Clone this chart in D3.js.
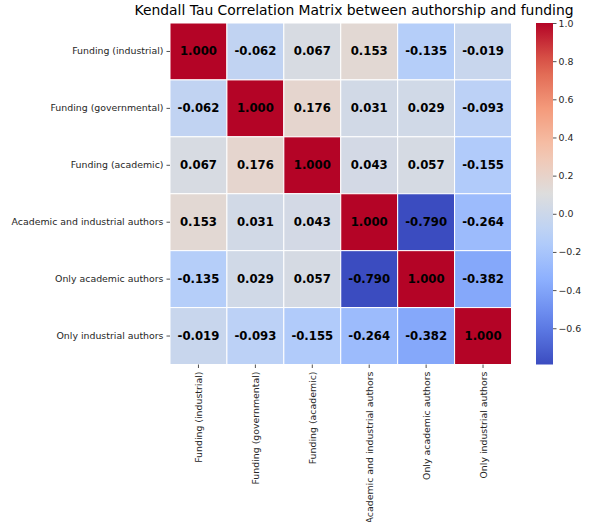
<!DOCTYPE html>
<html>
<head>
<meta charset="utf-8">
<script src="https://cdn.jsdelivr.net/npm/d3@7"></script>
<style>
  body { margin: 0; background: #fff; }
  text { font-family: "DejaVu Sans", sans-serif; fill: #262626; }
</style>
</head>
<body>
<svg id="chart"></svg>
<script>
// labels for rows and columns (same order)
const labels = [
  "Funding (industrial)",
  "Funding (governmental)",
  "Funding (academic)",
  "Academic and industrial authors",
  "Only academic authors",
  "Only industrial authors"
];

// Kendall tau values, one row per label
const row0 = [1.000, -0.062, 0.067, 0.153, -0.135, -0.019];
const row1 = [-0.062, 1.000, 0.176, 0.031, 0.029, -0.093];
const row2 = [0.067, 0.176, 1.000, 0.043, 0.057, -0.155];
const row3 = [0.153, 0.031, 0.043, 1.000, -0.790, -0.264];
const row4 = [-0.135, 0.029, 0.057, -0.790, 1.000, -0.382];
const row5 = [-0.019, -0.093, -0.155, -0.264, -0.382, 1.000];
const matrix = [row0, row1, row2, row3, row4, row5];

const colorbarTicks = [-0.6, -0.4, -0.2, 0.0, 0.2, 0.4, 0.6, 0.8, 1.0];

const width = 592, height = 522;
const svg = d3.select("#chart").attr("width", width).attr("height", height);

const marginLeft = 170, marginTop = 23, size = 341.5;
const tickFont = "9.4px";

// flatten matrix into cells
const cells = [];
matrix.forEach((row, i) => row.forEach((v, j) => cells.push({ i, j, v })));

const vmin = d3.min(cells, (d) => d.v), vmax = d3.max(cells, (d) => d.v);

// approximation of matplotlib "coolwarm"
const coolwarm = ["#3b4cc0", "#6282ea", "#8db0fe", "#b8d0f9", "#dddddd",
  "#f5c4ad", "#f49a7b", "#de604d", "#b40426"];
const cmap = d3.scaleLinear().domain([0, 1 / 8, 2 / 8, 3 / 8, 4 / 8, 5 / 8, 6 / 8, 7 / 8, 1]).range(coolwarm);
const color = (v) => cmap((v - vmin) / (vmax - vmin));

const x = d3.scaleBand().domain(d3.range(6)).range([marginLeft, marginLeft + size]);
const y = d3.scaleBand().domain(d3.range(6)).range([marginTop, marginTop + size]);

//cells
svg.append("g")
  .selectAll("rect")
  .data(cells)
  .enter()
  .append("rect")
  .attr("x", (d) => x(d.j))
  .attr("y", (d) => y(d.i))
  .attr("width", x.bandwidth())
  .attr("height", y.bandwidth())
  .attr("fill", (d) => color(d.v))
  .attr("stroke", "white")
  .attr("stroke-width", 1);

//annotations
svg.append("g")
  .selectAll("text")
  .data(cells)
  .enter()
  .append("text")
  .attr("x", (d) => x(d.j) + x.bandwidth() / 2)
  .attr("y", (d) => y(d.i) + y.bandwidth() / 2)
  .attr("text-anchor", "middle")
  .attr("dominant-baseline", "central")
  .style("font-size", "11.7px")
  .style("font-weight", "bold")
  .style("fill", "#000")
  .text((d) => d.v.toFixed(3));

//y axis
const yAxis = d3.axisLeft(d3.scaleBand().domain(labels).range([marginTop, marginTop + size]))
  .tickSize(3.5).tickPadding(3);
const gy = svg.append("g").attr("transform", `translate(${marginLeft},0)`).call(yAxis);
gy.select(".domain").remove();
gy.selectAll("line").attr("stroke", "#262626").attr("stroke-width", 0.8);
gy.selectAll("text").style("font-size", tickFont);

//x axis
const xAxis = d3.axisBottom(d3.scaleBand().domain(labels).range([marginLeft, marginLeft + size]))
  .tickSize(3.5).tickPadding(3);
const gx = svg.append("g").attr("transform", `translate(0,${marginTop + size})`).call(xAxis);
gx.select(".domain").remove();
gx.selectAll("line").attr("stroke", "#262626").attr("stroke-width", 0.8);
gx.selectAll("text")
  .style("font-size", tickFont)
  .attr("y", 0)
  .attr("dy", null)
  .attr("transform", "translate(0,7) rotate(-90)")
  .attr("text-anchor", "end")
  .attr("dominant-baseline", "central");

//colorbar
const cbX = 536, cbW = 17;
const cbScale = d3.scaleLinear().domain([vmin, vmax]).range([marginTop + size, marginTop]);
const defs = svg.append("defs");
const grad = defs.append("linearGradient").attr("id", "cb")
  .attr("x1", 0).attr("y1", 1).attr("x2", 0).attr("y2", 0);
d3.range(0, 1.0001, 0.05).forEach((p) => {
  grad.append("stop").attr("offset", p).attr("stop-color", cmap(p));
});
svg.append("rect")
  .attr("x", cbX).attr("y", marginTop)
  .attr("width", cbW).attr("height", size)
  .attr("fill", "url(#cb)");

const cbAxis = d3.axisRight(cbScale).tickValues(colorbarTicks)
  .tickSize(3.5).tickPadding(2)
  .tickFormat((d) => d3.format(".1f")(d).replace("-", "\u2212"));
const gc = svg.append("g").attr("transform", `translate(${cbX + cbW},0)`).call(cbAxis);
gc.select(".domain").remove();
gc.selectAll("line").attr("stroke", "#262626").attr("stroke-width", 0.8);
gc.selectAll("text").style("font-size", tickFont);

//title
svg.append("text")
  .attr("x", 354)
  .attr("y", 15)
  .attr("text-anchor", "middle")
  .style("font-size", "13.9px")
  .style("fill", "#000")
  .text("Kendall Tau Correlation Matrix between authorship and funding");
</script>
</body>
</html>
